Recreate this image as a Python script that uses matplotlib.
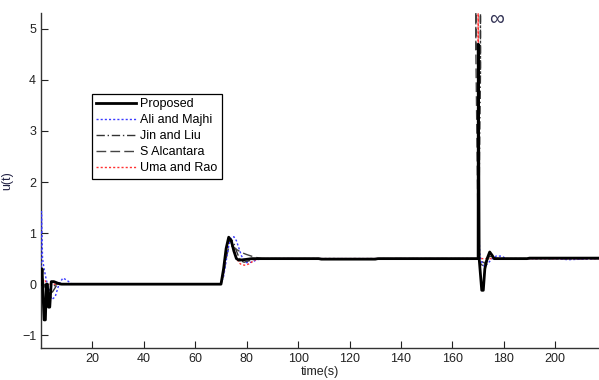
import matplotlib
matplotlib.use("Agg")
import matplotlib.pyplot as plt

plt.rcParams['font.family'] = ['Liberation Sans', 'DejaVu Sans']

# ---- data ----
labels = ["Proposed", "Ali and Majhi", "Jin and Liu", "S Alcantara", "Uma and Rao"]

t_prop = [0, 0.4, 0.8, 1.2, 1.7, 2.1, 2.5, 2.9, 3.4, 4.0, 5.0, 6.5, 8, 70, 71, 72, 73, 74, 75, 76, 77,
          79, 82, 108, 109, 130, 131, 170, 170.05, 170.4, 171.4, 172.0, 172.6, 173.5, 174.5, 175.5, 176.2,
          178, 189, 190, 217]
u_prop = [0, 0.3, -0.2, -0.7, -0.7, 0.0, 0.0, -0.45, -0.45, 0.05, 0.05, 0.02, 0, 0, 0.3, 0.7, 0.92, 0.85,
          0.65, 0.5, 0.47, 0.48, 0.5, 0.5, 0.49, 0.49, 0.5, 0.5, 4.7, 0.5, -0.12, -0.12, 0.3, 0.5, 0.63,
          0.56, 0.5, 0.5, 0.5, 0.51, 0.51]

t_ali = [0, 0.2, 0.6, 1.2, 2, 3, 4.2, 5.5, 7, 8.5, 10, 12, 14, 70, 71, 72, 73, 74, 75, 76, 77, 78, 80,
         82, 84, 87, 170, 170.2, 170.6, 171.2, 172.5, 174, 175.5, 177, 179, 181, 200, 205, 217]
u_ali = [0, 1.42, 0.5, 0.3, 0.1, -0.1, -0.3, -0.25, 0.0, 0.12, 0.08, 0.0, 0, 0, 0.15, 0.45, 0.75, 0.9,
         0.93, 0.85, 0.7, 0.55, 0.42, 0.43, 0.48, 0.5, 0.5, 1.25, 0.6, 0.45, 0.34, 0.42, 0.5, 0.55, 0.55,
         0.5, 0.5, 0.48, 0.5]

t_jin = [0, 0.5, 1.5, 3, 4.5, 6, 8, 70, 71, 72, 73, 74, 75, 76, 77, 78, 79, 81, 84, 87, 169.95, 170.0,
         170.9, 170.9, 170.9, 170.1, 171, 172, 173, 174.5, 176, 178, 217]
u_jin = [0, 0.15, -0.05, -0.2, -0.15, -0.03, 0, 0, 0.2, 0.55, 0.82, 0.88, 0.8, 0.65, 0.52, 0.45, 0.43,
         0.46, 0.5, 0.5, 0.5, 4.1, 4.1, 8, 4.1, 0.5, 0.4, 0.35, 0.45, 0.55, 0.52, 0.5, 0.5]

t_alc = [0, 0.5, 1.5, 2.5, 4, 6, 8, 70, 71, 72, 73, 74, 75, 76, 78, 80, 83, 86, 88, 169.95, 170.0,
         169.1, 169.1, 169.1, 170.1, 171, 172.5, 174, 176, 178, 217]
u_alc = [0, 0.1, -0.05, -0.15, -0.08, 0, 0, 0, 0.2, 0.5, 0.72, 0.75, 0.72, 0.68, 0.62, 0.58, 0.53, 0.5,
         0.5, 0.5, 4.6, 4.6, 8, 4.6, 0.5, 0.45, 0.42, 0.5, 0.52, 0.5, 0.5]

t_uma = [0, 0.5, 1.5, 2.5, 3.5, 5, 70, 71, 72, 73, 74, 75, 76, 77, 78, 79.5, 81, 83, 85, 169.95, 170.0,
         170.1, 171, 173, 217]
u_uma = [0, 0.1, 0.08, -0.03, 0, 0, 0, 0.25, 0.65, 0.9, 0.85, 0.68, 0.52, 0.42, 0.38, 0.37, 0.4, 0.47,
         0.5, 0.5, 8, 0.5, 0.5, 0.5, 0.5]

x_ticks = [20, 40, 60, 80, 100, 120, 140, 160, 180, 200]
y_ticks = [-1, 0, 1, 2, 3, 4, 5]

# ---- figure ----
fig = plt.figure(figsize=(5.99, 3.80), dpi=100)
ax = fig.add_axes([41 / 599, 32 / 380, 1 - 41 / 599, (348 - 13) / 380])

ax.plot(t_ali, u_ali, color='#3a3aff', lw=1.0, ls=(0, (1.5, 1.5)), label=labels[1], zorder=3)
ax.plot(t_jin, u_jin, color='#333333', lw=1.0, ls=(0, (6, 2, 1, 2)), label=labels[2], zorder=2)
ax.plot(t_alc, u_alc, color='#444444', lw=1.0, ls=(0, (7, 3)), label=labels[3], zorder=2)
ax.plot(t_uma, u_uma, color='#ff3030', lw=1.0, ls=(0, (1.5, 1.5)), label=labels[4], zorder=3)
ax.plot(t_prop, u_prop, color='black', lw=2.0, label=labels[0], zorder=4)

ax.set_xlim(0, 217)
ax.set_ylim(-1.25, 5.31)
ax.set_xticks(x_ticks)
ax.set_yticks(y_ticks)
ax.tick_params(direction='in', length=5, width=0.8, labelsize=9, colors='#222222')
for s in ['top', 'right']:
    ax.spines[s].set_visible(False)
for s in ['left', 'bottom']:
    ax.spines[s].set_color('#333333')
    ax.spines[s].set_linewidth(1.0)

ax.set_xlabel('time(s)', fontsize=9, color='#222222', labelpad=1)
ax.set_ylabel('u(t)', fontsize=9, color='#222244', labelpad=6)

ax.text(177.3, 5.18, '\u221e', fontsize=15, color='#333355', ha='center', va='center')

handles, labs = ax.get_legend_handles_labels()
order = [labs.index(l) for l in labels]
leg = ax.legend([handles[i] for i in order], [labs[i] for i in order],
                loc='upper left', bbox_to_anchor=(92 / 599, 1 - 94 / 380),
                bbox_transform=fig.transFigure, borderaxespad=0, fontsize=9,
                frameon=True, fancybox=False, edgecolor='black', framealpha=1,
                handlelength=3.2, handletextpad=0.3, labelspacing=0.32, borderpad=0.35)
leg.get_frame().set_linewidth(0.9)

fig.savefig('out.png', dpi=100)
